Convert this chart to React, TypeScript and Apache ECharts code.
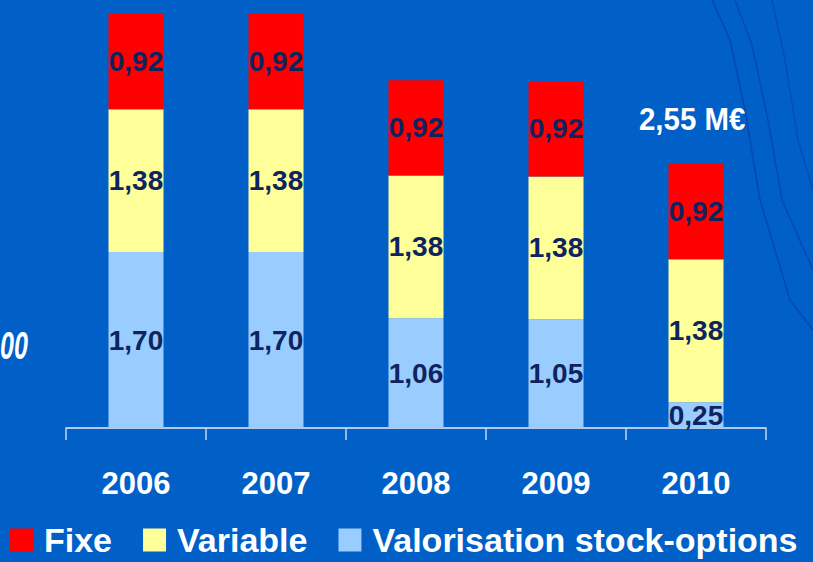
import React, { useEffect, useRef } from "react";
import * as echarts from "echarts";

const years = ["2006", "2007", "2008", "2009", "2010"];
const fixe = [0.92, 0.92, 0.92, 0.92, 0.92];
const variable = [1.38, 1.38, 1.38, 1.38, 1.38];
const stockOptions = [1.7, 1.7, 1.06, 1.05, 0.25];
const totalNote = "2,55 M€";

const BG = "#0060C8";
const NAVY = "#0d2460";
const FONT = '"Liberation Sans", Arial, sans-serif';

const fmt = (v: number) => v.toFixed(2).replace(".", ",");

export default function App() {
  const ref = useRef<HTMLDivElement>(null);
  useEffect(() => {
    if (!ref.current) return;
    const chart = echarts.init(ref.current, null, { renderer: "svg" });
    const label = {
      show: true,
      position: "inside",
      color: NAVY,
      fontFamily: FONT,
      fontWeight: "bold",
      fontSize: 28,
      formatter: (p: any) => fmt(p.value),
    };
    const mk = (name: string, data: number[], color: string) => ({
      name,
      type: "bar",
      stack: "total",
      data,
      barWidth: 55,
      itemStyle: { color },
      label,
    });
    chart.setOption({
      animation: false,
      backgroundColor: BG,
      grid: { left: 66, right: 47, top: 14, bottom: 134 },
      legend: {
        data: ["Fixe", "Variable", "Valorisation stock-options"],
        left: 10,
        top: 523,
        padding: 0,
        icon: "rect",
        itemWidth: 23,
        itemHeight: 23,
        itemGap: 31,
        textStyle: {
          color: "#ffffff",
          fontFamily: FONT,
          fontWeight: "bold",
          fontSize: 34,
          lineHeight: 34,
          padding: [0, 0, 0, 6],
        },
      },
      xAxis: {
        type: "category",
        data: years,
        axisLine: { lineStyle: { color: "#e8eef8", width: 1.5 } },
        axisTick: { show: true, length: 12, lineStyle: { color: "#c8d4ea", width: 1.5 } },
        axisLabel: {
          color: "#ffffff",
          fontFamily: FONT,
          fontWeight: "bold",
          fontSize: 31,
          margin: 40,
        },
      },
      yAxis: {
        type: "value",
        min: 0,
        max: 4,
        show: false,
        splitLine: { show: false },
      },
      graphic: [
        {
          type: "polyline",
          shape: { points: [[712, 0], [730, 40], [745, 110], [760, 200], [790, 300], [813, 330]] },
          style: { stroke: "rgba(10,50,170,0.55)", lineWidth: 1.5, fill: "none" },
          silent: true,
        },
        {
          type: "polyline",
          shape: { points: [[735, 0], [752, 45], [768, 120], [782, 200], [813, 270]] },
          style: { stroke: "rgba(10,50,170,0.5)", lineWidth: 1.5, fill: "none" },
          silent: true,
        },
        {
          type: "polyline",
          shape: { points: [[772, 0], [785, 60], [798, 140], [813, 190]] },
          style: { stroke: "rgba(10,50,170,0.45)", lineWidth: 1.5, fill: "none" },
          silent: true,
        },
        {
          type: "text",
          x: 639,
          y: 119,
          scaleX: 0.92,
          style: {
            text: totalNote,
            fill: "#ffffff",
            font: `bold 32px ${FONT}`,
            align: "left",
            verticalAlign: "middle",
          },
        },
        {
          type: "text",
          x: 0,
          y: 346,
          scaleX: 0.66,
          style: {
            text: "00",
            fill: "#ffffff",
            font: `italic bold 38px ${FONT}`,
            align: "left",
            verticalAlign: "middle",
          },
        },
      ],
      series: [
        mk("Valorisation stock-options", stockOptions, "#99CCFF"),
        mk("Variable", variable, "#FFFF99"),
        mk("Fixe", fixe, "#FF0000"),
      ],
    });
    return () => chart.dispose();
  }, []);
  return <div ref={ref} style={{ position: "fixed", left: 0, top: 0, width: 813, height: 562 }} />;
}
